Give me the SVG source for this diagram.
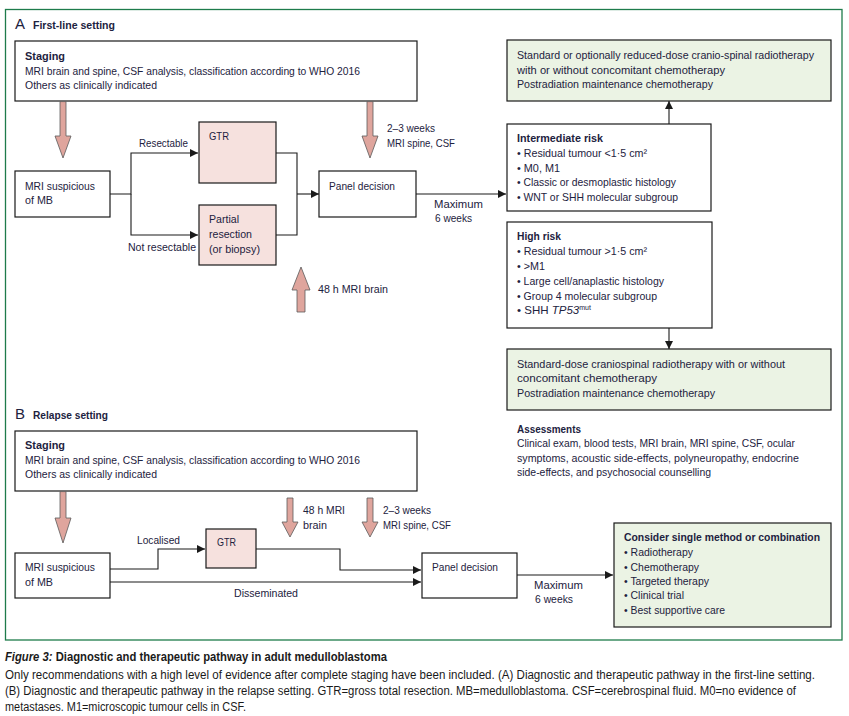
<svg xmlns="http://www.w3.org/2000/svg" width="849" height="716" viewBox="0 0 849 716">
<style>
text{font-family:"Liberation Sans",Arial,sans-serif;font-size:11.5px;fill:#1d2240}
.b{font-weight:bold}
.box{fill:#fff;stroke:#1a1a1a;stroke-width:1.2}
.pink{fill:#f6e1de;stroke:#1a1a1a;stroke-width:1.2}
.green{fill:#ebf3e4;stroke:#1a1a1a;stroke-width:1.2}
.con{fill:none;stroke:#1a1a1a;stroke-width:1.1}
.pa{fill:#dfa59d;stroke:#5a5a5a;stroke-width:0.8}
.cap{font-size:12px;fill:#1a1a1a}
</style>
<defs>
<marker id="ah" markerUnits="userSpaceOnUse" markerWidth="9" markerHeight="8" refX="8" refY="4" orient="auto">
<path d="M0,0 L8,4 L0,8 z" fill="#1a1a1a"/>
</marker>
</defs>
<rect width="849" height="716" fill="#fff"/>
<rect x="5.5" y="9.5" width="836.5" height="630.5" fill="none" stroke="#1e7b4b" stroke-width="1.3"/>

<!-- Section A -->
<text x="15" y="29" style="font-size:15px">A</text>
<text x="33" y="29" class="b" textLength="82" lengthAdjust="spacingAndGlyphs">First-line setting</text>

<g id="a-staging">
<rect class="box" x="15" y="41" width="402" height="60"/>
<text x="25" y="60" class="b" textLength="40" lengthAdjust="spacingAndGlyphs">Staging</text>
<text x="25" y="75" textLength="335" lengthAdjust="spacingAndGlyphs">MRI brain and spine, CSF analysis, classification according to WHO 2016</text>
<text x="25" y="89" textLength="132" lengthAdjust="spacingAndGlyphs">Others as clinically indicated</text>
</g>
<g id="a-mri">
<rect class="box" x="15" y="171" width="95" height="46"/>
<text x="25" y="190" textLength="70" lengthAdjust="spacingAndGlyphs">MRI suspicious</text>
<text x="25" y="204" textLength="28" lengthAdjust="spacingAndGlyphs">of MB</text>
</g>
<g id="a-gtr">
<rect class="pink" x="199" y="122" width="77" height="61"/>
<text x="209" y="140" textLength="20" lengthAdjust="spacingAndGlyphs">GTR</text>
</g>
<g id="a-partial">
<rect class="pink" x="199" y="205" width="77" height="60"/>
<text x="209" y="223" textLength="30" lengthAdjust="spacingAndGlyphs">Partial</text>
<text x="209" y="238" textLength="43" lengthAdjust="spacingAndGlyphs">resection</text>
<text x="209" y="253" textLength="51" lengthAdjust="spacingAndGlyphs">(or biopsy)</text>
</g>
<g id="a-panel">
<rect class="box" x="319" y="171" width="97" height="46"/>
<text x="329" y="190" textLength="66" lengthAdjust="spacingAndGlyphs">Panel decision</text>
</g>
<g id="a-std">
<rect class="green" x="507" y="40" width="324" height="61"/>
<text x="517" y="59" textLength="297" lengthAdjust="spacingAndGlyphs">Standard or optionally reduced-dose cranio-spinal radiotherapy</text>
<text x="517" y="74" textLength="208" lengthAdjust="spacingAndGlyphs">with or without concomitant chemotherapy</text>
<text x="517" y="88" textLength="196" lengthAdjust="spacingAndGlyphs">Postradiation maintenance chemotherapy</text>
</g>
<g id="a-intermediate">
<rect class="box" x="507" y="124" width="204" height="87"/>
<text x="517" y="142" class="b" textLength="86" lengthAdjust="spacingAndGlyphs">Intermediate risk</text>
<text x="517" y="157" textLength="130" lengthAdjust="spacingAndGlyphs">• Residual tumour &lt;1·5 cm²</text>
<text x="517" y="172" textLength="43" lengthAdjust="spacingAndGlyphs">• M0, M1</text>
<text x="517" y="186" textLength="159" lengthAdjust="spacingAndGlyphs">• Classic or desmoplastic histology</text>
<text x="517" y="201" textLength="161" lengthAdjust="spacingAndGlyphs">• WNT or SHH molecular subgroup</text>
</g>
<g id="a-high">
<rect class="box" x="507" y="222" width="205" height="106"/>
<text x="517" y="240" class="b" textLength="44" lengthAdjust="spacingAndGlyphs">High risk</text>
<text x="517" y="255" textLength="130" lengthAdjust="spacingAndGlyphs">• Residual tumour &gt;1·5 cm²</text>
<text x="517" y="270" textLength="28" lengthAdjust="spacingAndGlyphs">• &gt;M1</text>
<text x="517" y="285" textLength="147" lengthAdjust="spacingAndGlyphs">• Large cell/anaplastic histology</text>
<text x="517" y="300" textLength="140" lengthAdjust="spacingAndGlyphs">• Group 4 molecular subgroup</text>
<text x="517" y="314">• SHH <tspan font-style="italic">TP53</tspan><tspan dy="-4" style="font-size:7px">mut</tspan></text>
</g>
<g id="a-std2">
<rect class="green" x="507" y="349" width="324" height="61"/>
<text x="517" y="368" textLength="268" lengthAdjust="spacingAndGlyphs">Standard-dose craniospinal radiotherapy with or without</text>
<text x="517" y="382" textLength="140" lengthAdjust="spacingAndGlyphs">concomitant chemotherapy</text>
<text x="517" y="397" textLength="198" lengthAdjust="spacingAndGlyphs">Postradiation maintenance chemotherapy</text>
</g>
<g id="a-labels">
<text x="139" y="147" textLength="49" lengthAdjust="spacingAndGlyphs">Resectable</text>
<text x="128" y="251" textLength="68" lengthAdjust="spacingAndGlyphs">Not resectable</text>
<text x="387" y="132" textLength="48" lengthAdjust="spacingAndGlyphs">2–3 weeks</text>
<text x="387" y="147" textLength="68" lengthAdjust="spacingAndGlyphs">MRI spine, CSF</text>
<text x="434" y="208" textLength="49" lengthAdjust="spacingAndGlyphs">Maximum</text>
<text x="435" y="222" textLength="37" lengthAdjust="spacingAndGlyphs">6 weeks</text>
<text x="318" y="293" textLength="70" lengthAdjust="spacingAndGlyphs">48 h MRI brain</text>
</g>

<!-- Section B -->
<text x="15" y="419" style="font-size:15px">B</text>
<text x="33" y="419" class="b" textLength="75" lengthAdjust="spacingAndGlyphs">Relapse setting</text>
<g id="b-staging">
<rect class="box" x="15" y="431" width="402" height="60"/>
<text x="25" y="449" class="b" textLength="40" lengthAdjust="spacingAndGlyphs">Staging</text>
<text x="25" y="464" textLength="335" lengthAdjust="spacingAndGlyphs">MRI brain and spine, CSF analysis, classification according to WHO 2016</text>
<text x="25" y="478" textLength="132" lengthAdjust="spacingAndGlyphs">Others as clinically indicated</text>
</g>
<g id="b-mri">
<rect class="box" x="15" y="553" width="95" height="45"/>
<text x="25" y="571" textLength="70" lengthAdjust="spacingAndGlyphs">MRI suspicious</text>
<text x="25" y="586" textLength="28" lengthAdjust="spacingAndGlyphs">of MB</text>
</g>
<g id="b-gtr">
<rect class="pink" x="206" y="529" width="50" height="39"/>
<text x="217" y="546" textLength="19" lengthAdjust="spacingAndGlyphs">GTR</text>
</g>
<g id="b-panel">
<rect class="box" x="422" y="553" width="95" height="45"/>
<text x="432" y="571" textLength="66" lengthAdjust="spacingAndGlyphs">Panel decision</text>
</g>
<g id="b-consider">
<rect class="green" x="614" y="523" width="217" height="104"/>
<text x="624" y="541" class="b" textLength="196" lengthAdjust="spacingAndGlyphs">Consider single method or combination</text>
<text x="624" y="556" textLength="69" lengthAdjust="spacingAndGlyphs">• Radiotherapy</text>
<text x="624" y="571" textLength="75" lengthAdjust="spacingAndGlyphs">• Chemotherapy</text>
<text x="624" y="585" textLength="85" lengthAdjust="spacingAndGlyphs">• Targeted therapy</text>
<text x="624" y="599" textLength="60" lengthAdjust="spacingAndGlyphs">• Clinical trial</text>
<text x="624" y="614" textLength="101" lengthAdjust="spacingAndGlyphs">• Best supportive care</text>
</g>
<g id="b-assessments">
<text x="517" y="433" class="b" textLength="64" lengthAdjust="spacingAndGlyphs">Assessments</text>
<text x="517" y="447" textLength="278" lengthAdjust="spacingAndGlyphs">Clinical exam, blood tests, MRI  brain, MRI spine, CSF, ocular</text>
<text x="517" y="462" textLength="282" lengthAdjust="spacingAndGlyphs">symptoms, acoustic side-effects, polyneuropathy, endocrine</text>
<text x="517" y="476" textLength="194" lengthAdjust="spacingAndGlyphs">side-effects, and psychosocial counselling</text>
</g>
<g id="b-labels">
<text x="137" y="544" textLength="43" lengthAdjust="spacingAndGlyphs">Localised</text>
<text x="234" y="597" textLength="64" lengthAdjust="spacingAndGlyphs">Disseminated</text>
<text x="303" y="514" textLength="42" lengthAdjust="spacingAndGlyphs">48 h MRI</text>
<text x="303" y="529" textLength="24" lengthAdjust="spacingAndGlyphs">brain</text>
<text x="383" y="514" textLength="48" lengthAdjust="spacingAndGlyphs">2–3 weeks</text>
<text x="383" y="529" textLength="68" lengthAdjust="spacingAndGlyphs">MRI spine, CSF</text>
<text x="534" y="589" textLength="49" lengthAdjust="spacingAndGlyphs">Maximum</text>
<text x="535" y="603" textLength="38" lengthAdjust="spacingAndGlyphs">6 weeks</text>
</g>

<g id="connectors">
<path class="con" d="M110,194 H131 V153 H198" marker-end="url(#ah)"/>
<path class="con" d="M131,194 V235 H198" marker-end="url(#ah)"/>
<path class="con" d="M276,153 H297 V235 H276"/>
<path class="con" d="M297,194 H319" marker-end="url(#ah)"/>
<path class="con" d="M416,194 H506" marker-end="url(#ah)"/>
<path class="con" d="M669,124 V101" marker-end="url(#ah)"/>
<path class="con" d="M669,328 V349" marker-end="url(#ah)"/>
<path class="con" d="M110,569 H158 V549 H205" marker-end="url(#ah)"/>
<path class="con" d="M256,549 H340 V570 H421" marker-end="url(#ah)"/>
<path class="con" d="M110,582 H421" marker-end="url(#ah)"/>
<path class="con" d="M517,575 H613" marker-end="url(#ah)"/>
<polygon class="pa" points="60,101.6 66,101.6 66,136 71,136 63,158 55,136 60,136"/>
<polygon class="pa" points="367,101.6 373,101.6 373,136 378,136 370,158 362,136 367,136"/>
<polygon class="pa" points="297,312 305,312 305,290 310,290 301,267 292,290 297,290"/>
<polygon class="pa" points="60,491.6 66,491.6 66,518 71,518 63,543 55,518 60,518"/>
<polygon class="pa" points="287,498 293,498 293,522 298,522 290,537 282,522 287,522"/>
<polygon class="pa" points="367,498 373,498 373,522 378,522 370,537 362,522 367,522"/>
</g>

<g id="caption">
<text x="5" y="661" class="cap b" textLength="382" lengthAdjust="spacingAndGlyphs"><tspan font-style="italic">Figure 3:</tspan> Diagnostic and therapeutic pathway in adult medulloblastoma</text>
<text x="5" y="679" class="cap" textLength="810" lengthAdjust="spacingAndGlyphs">Only recommendations with a high level of evidence after complete staging have been included. (A) Diagnostic and therapeutic pathway in the first-line setting.</text>
<text x="5" y="695" class="cap" textLength="791" lengthAdjust="spacingAndGlyphs">(B) Diagnostic and therapeutic pathway in the relapse setting. GTR=gross total resection. MB=medulloblastoma. CSF=cerebrospinal fluid. M0=no evidence of</text>
<text x="5" y="711" class="cap" textLength="241" lengthAdjust="spacingAndGlyphs">metastases. M1=microscopic tumour cells in CSF.</text>
</g>
</svg>
